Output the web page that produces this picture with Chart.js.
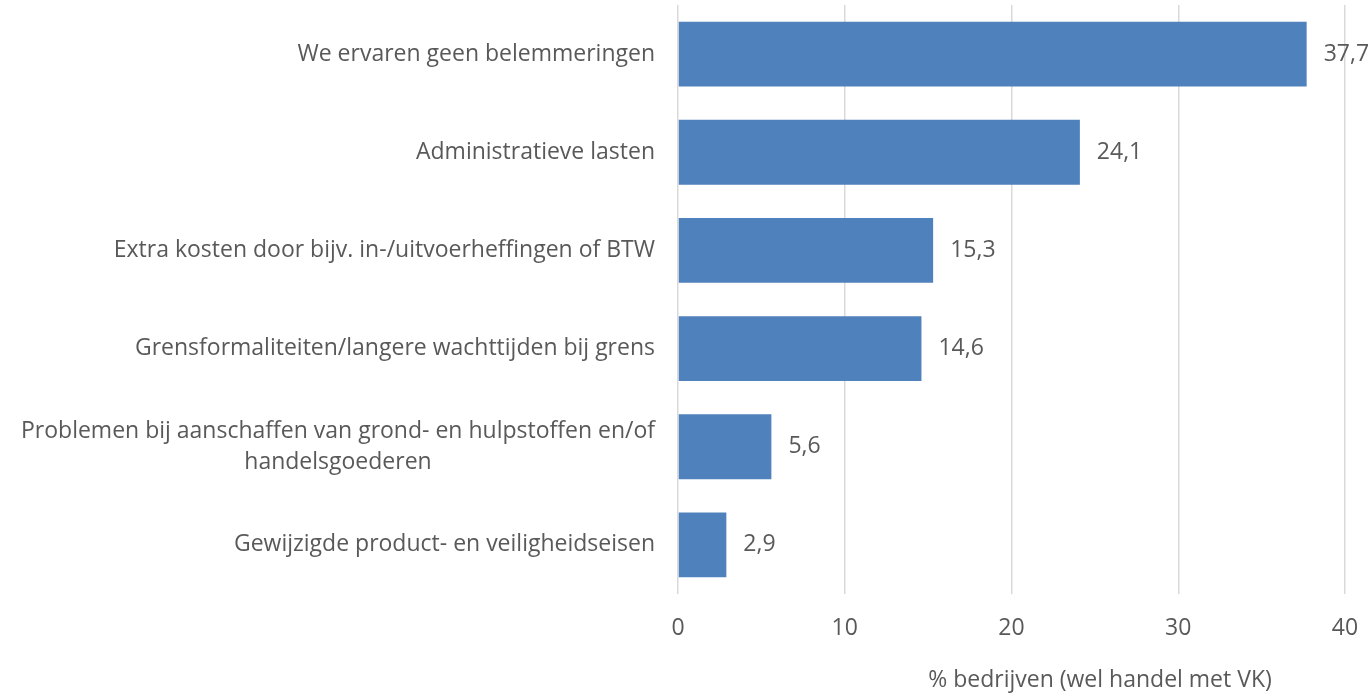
<!DOCTYPE html>
<html lang="nl">
<head>
	<meta charset="utf-8">
	<title>Belemmeringen handel VK</title>
	<script src="https://cdn.jsdelivr.net/npm/chart.js@4/dist/chart.umd.min.js"></script>
	<style>
		html, body { margin: 0; padding: 0; background: #fff; }
		#grafiek { display: block; }
	</style>
</head>
<body>
	<canvas id="grafiek" width="1368" height="693"></canvas>
	<script>
		// categorieen (meerregelig label als array)
		const categorieen = [
			['We ervaren geen belemmeringen'],
			['Administratieve lasten'],
			['Extra kosten door bijv. in-/uitvoerheffingen of BTW'],
			['Grensformaliteiten/langere wachttijden bij grens'],
			['Problemen bij aanschaffen van grond- en hulpstoffen en/of', 'handelsgoederen'],
			['Gewijzigde product- en veiligheidseisen']
		];
		const waarden = [37.7, 24.1, 15.3, 14.6, 5.6, 2.9];
		const asTicks = [0, 10, 20, 30, 40];
		const asTitel = '% bedrijven (wel handel met VK)';

		const FONT = '"Open Sans", sans-serif';
		const TEKST = '#595959';
		const GROOTTE = 23;

		const fmt = v => v.toFixed(1).replace('.', ',');

		// labels links van de as + waardes achter de balken + astitel
		const tekstPlugin = {
			id: 'tekstPlugin',
			afterDraw(chart) {
				const ctx = chart.ctx;
				const y = chart.scales.y;
				const x = chart.scales.x;
				ctx.save();
				ctx.fillStyle = TEKST;
				ctx.font = GROOTTE + 'px ' + FONT;
				ctx.textBaseline = 'middle';

				const rechts = x.left - 23;
				const regelHoogte = 31;
				categorieen.forEach((regels, i) => {
					const cy = y.getPixelForValue(i);
					const breedste = Math.max(...regels.map(r => ctx.measureText(r).width));
					const start = cy - (regels.length - 1) * regelHoogte / 2;
					regels.forEach((r, j) => {
						if (regels.length > 1) {
							ctx.textAlign = 'center';
							ctx.fillText(r, rechts - breedste / 2, start + j * regelHoogte);
						} else {
							ctx.textAlign = 'right';
							ctx.fillText(r, rechts, start);
						}
					});
				});

				// waardes
				const meta = chart.getDatasetMeta(0);
				ctx.textAlign = 'left';
				meta.data.forEach((bar, i) => {
					ctx.fillText(fmt(waarden[i]), bar.x + 17, bar.y);
				});

				// astitel
				ctx.textAlign = 'center';
				ctx.fillText(asTitel, 1100, 680);
				ctx.restore();
			}
		};

		new Chart(document.getElementById('grafiek'), {
			type: 'bar',
			data: {
				labels: categorieen.map(c => c.join(' ')),
				datasets: [{
					data: waarden,
					backgroundColor: '#4F81BD',
					borderWidth: 0,
					categoryPercentage: 1,
					barPercentage: 0.66
				}]
			},
			options: {
				indexAxis: 'y',
				responsive: false,
				animation: false,
				layout: { padding: { top: 5, right: 23, left: 0, bottom: 0 } },
				plugins: {
					legend: { display: false },
					tooltip: { enabled: false }
				},
				scales: {
					x: {
						min: asTicks[0],
						max: asTicks[asTicks.length - 1],
						afterBuildTicks: (as) => { as.ticks = asTicks.map(v => ({ value: v })); },
						border: { display: false },
						grid: { color: '#D9D9D9', lineWidth: 1.5, drawTicks: false },
						ticks: {
							color: TEKST,
							font: { family: FONT, size: GROOTTE },
							padding: 21
						},
						afterFit: (as) => {
							as.height = 99;
							as.paddingLeft = 0;
							as.paddingRight = 0;
						}
					},
					y: {
						border: { display: false },
						grid: { display: false },
						ticks: { display: false },
						afterFit: (as) => { as.width = 678; }
					}
				}
			},
			plugins: [tekstPlugin]
		});
	</script>
</body>
</html>
